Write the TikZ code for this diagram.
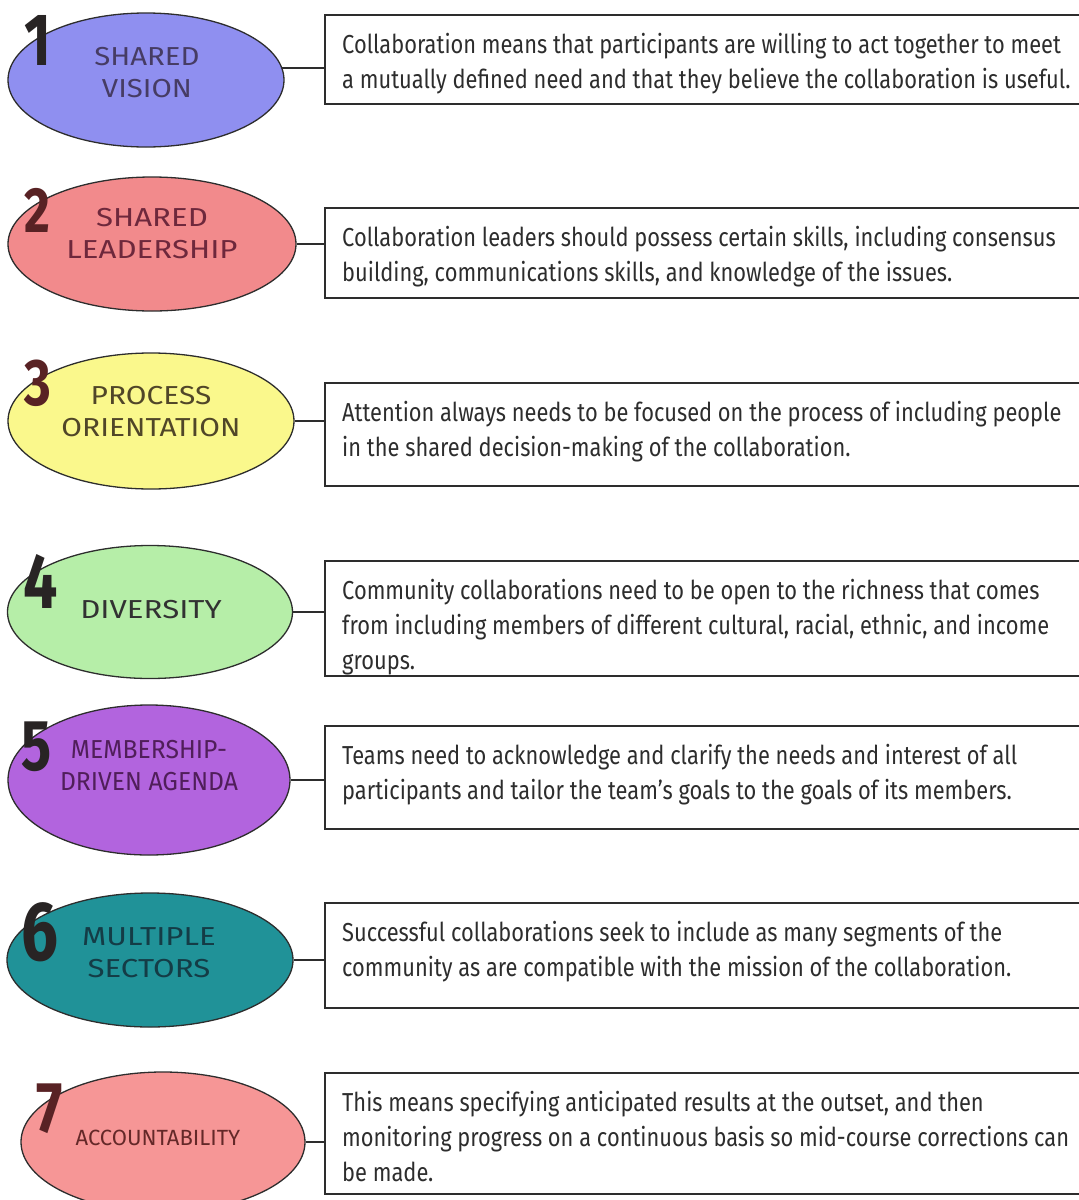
\documentclass[tikz,border=0pt]{standalone}
\usepackage{fontspec}
\usepackage{graphicx}
\setmainfont{Fira Sans}
\newfontfamily\lblfont{Fira Sans}
\usetikzlibrary{shapes.geometric}
\definecolor{c1}{RGB}{143,143,240}
\definecolor{c2}{RGB}{242,138,140}
\definecolor{c3}{RGB}{250,248,140}
\definecolor{c4}{RGB}{182,238,168}
\definecolor{c5}{RGB}{178,100,222}
\definecolor{c6}{RGB}{32,146,152}
\definecolor{c7}{RGB}{246,150,150}
\definecolor{k1}{RGB}{70,60,100}
\definecolor{k2}{RGB}{110,40,60}
\definecolor{k3}{RGB}{80,70,40}
\definecolor{k4}{RGB}{50,50,50}
\definecolor{k5}{RGB}{80,30,90}
\definecolor{k6}{RGB}{20,60,70}
\definecolor{k7}{RGB}{100,40,40}
\definecolor{ndark}{RGB}{40,36,36}
\definecolor{nred}{RGB}{88,34,36}
\definecolor{ink}{RGB}{45,45,45}
\newcommand\bodytext[1]{\fontsize{26}{35}\selectfont\scalebox{0.84}[1]{\begin{tabular}{@{}l@{}}#1\end{tabular}}}
\newcommand\lbltext[2]{\scalebox{#1}[1]{\begin{tabular}{@{}c@{}}#2\end{tabular}}}
\tikzset{
  ell/.style={ellipse, draw=ink, line width=1.3pt, inner sep=0pt},
  boxnode/.style={draw=ink, line width=2pt, anchor=north west, inner sep=0pt, minimum width=780pt, minimum height=#1},
  conn/.style={draw=ink, line width=1.3pt},
  body/.style={anchor=north west, inner sep=0pt, text=ink},
  lbl/.style={inner sep=0pt, font=\lblfont\fontsize{26}{32}\selectfont},
  num/.style={anchor=base west, inner sep=0pt},
}
\newcommand\dig[2]{\fontsize{#1}{#1}\selectfont\bfseries\scalebox{0.78}[1]{#2}}
\begin{document}
\begin{tikzpicture}[x=1pt,y=-1pt]
\useasboundingbox (0,0) rectangle (1079,1200);
\clip (0,0) rectangle (1079,1200);
% ellipses
\node[ell, fill=c1, minimum width=276pt, minimum height=134pt] (e1) at (146,80) {};
\node[ell, fill=c2, minimum width=288pt, minimum height=134pt] (e2) at (152,244) {};
\node[ell, fill=c3, minimum width=286pt, minimum height=136pt] (e3) at (151,421) {};
\node[ell, fill=c4, minimum width=285pt, minimum height=133pt] (e4) at (150,612) {};
\node[ell, fill=c5, minimum width=282pt, minimum height=150pt] (e5) at (149,780) {};
\node[ell, fill=c6, minimum width=286pt, minimum height=134pt] (e6) at (150,960) {};
\node[ell, fill=c7, minimum width=284pt, minimum height=140pt] (e7) at (163,1142) {};
% boxes
\node[boxnode=89pt] (b1) at (324,14) {};
\node[boxnode=90pt] (b2) at (324,207) {};
\node[boxnode=103pt] (b3) at (324,382) {};
\node[boxnode=115pt] (b4) at (324,560) {};
\node[boxnode=103pt] (b5) at (324,725) {};
\node[boxnode=105pt] (b6) at (324,902) {};
\node[boxnode=121pt] (b7) at (324,1072) {};
% connectors
\draw[conn] (e1.5.5) -- (e1.5.5 -| b1.west);
\draw[conn] (e2.east) -- (e2.east -| b2.west);
\draw[conn] (e3.east) -- (e3.east -| b3.west);
\draw[conn] (e4.east) -- (e4.east -| b4.west);
\draw[conn] (e5.east) -- (e5.east -| b5.west);
\draw[conn] (e6.east) -- (e6.east -| b6.west);
\draw[conn] (e7.east) -- (e7.east -| b7.west);
% body texts
\node[body] (t1) at (342,28.5) {\bodytext{Collaboration means that participants are willing to act together to meet\\a mutually defined need and that they believe the collaboration is useful.}};
\node[body] (t2) at (342,221.5) {\bodytext{Collaboration leaders should possess certain skills, including consensus\\building, communications skills, and knowledge of the issues.}};
\node[body] (t3) at (342,396.5) {\bodytext{Attention always needs to be focused on the process of including people\\in the shared decision-making of the collaboration.}};
\node[body] (t4) at (342,574.5) {\bodytext{Community collaborations need to be open to the richness that comes\\from including members of different cultural, racial, ethnic, and income\\groups.}};
\node[body] (t5) at (342,739.5) {\bodytext{Teams need to acknowledge and clarify the needs and interest of all\\participants and tailor the team's goals to the goals of its members.}};
\node[body] (t6) at (342,916.5) {\bodytext{Successful collaborations seek to include as many segments of the\\community as are compatible with the mission of the collaboration.}};
\node[body] (t7) at (342,1086.5) {\bodytext{This means specifying anticipated results at the outset, and then\\monitoring progress on a continuous basis so mid-course corrections can\\be made.}};
% labels
\node[lbl, text=k1] (l1) at (147,75) {\lbltext{1.13}{SHARED\\VISION}};
\node[lbl, text=k2] (l2) at (152,236) {\lbltext{1.2}{SHARED\\LEADERSHIP}};
\node[lbl, text=k3] (l3) at (151,414) {\lbltext{1.15}{PROCESS\\ORIENTATION}};
\node[lbl, text=k4] (l4) at (151,612) {\lbltext{1.2}{DIVERSITY}};
\node[lbl, text=k5] (l5) at (149,768) {\lbltext{0.95}{MEMBERSHIP-\\DRIVEN AGENDA}};
\node[lbl, text=k6] (l6) at (149,955) {\lbltext{1.2}{MULTIPLE\\SECTORS}};
\node[lbl, text=k7, font=\lblfont\fontsize{22}{28}\selectfont] (l7) at (158,1140) {\lbltext{1.0}{ACCOUNTABILITY}};
% numbers
\node[num, text=ndark] (n1) at (24,65) {\dig{74}{1}};
\node[num, text=nred] (n2) at (24,232) {\dig{64}{2}};
\node[num, text=nred] (n3) at (24,405) {\dig{66}{3}};
\node[num, text=ndark] (n4) at (23,608) {\dig{78}{4}};
\node[num, text=ndark] (n5) at (21,770) {\dig{72}{5}};
\node[num, text=ndark] (n6) at (21,960) {\dig{84}{6}};
\node[num, text=nred] (n7) at (36,1132) {\dig{72}{7}};
\end{tikzpicture}
\end{document}
